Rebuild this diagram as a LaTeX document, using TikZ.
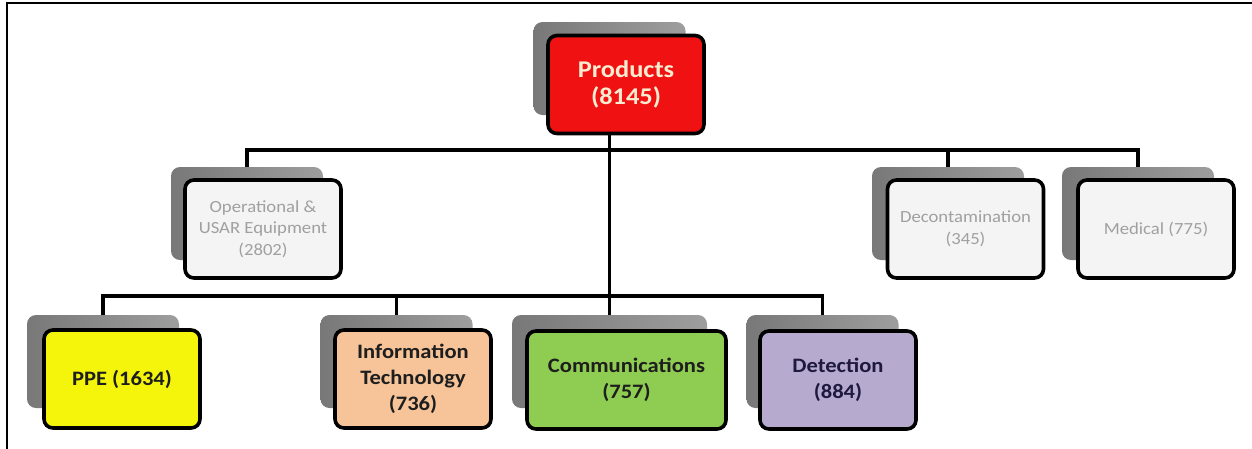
\documentclass[tikz,border=0pt]{standalone}
\usepackage{fontspec}
\setmainfont{Carlito}[FakeStretch=1.1]
\usetikzlibrary{backgrounds}

\definecolor{shadeL}{RGB}{120,120,120}
\definecolor{shadeR}{RGB}{158,158,158}
\definecolor{rootRed}{RGB}{240,18,18}
\definecolor{rootText}{RGB}{250,236,208}
\definecolor{paleFill}{RGB}{244,244,244}
\definecolor{paleText}{RGB}{160,160,160}
\definecolor{ppeYellow}{RGB}{245,245,12}
\definecolor{itPeach}{RGB}{246,196,152}
\definecolor{commGreen}{RGB}{142,204,82}
\definecolor{detLilac}{RGB}{182,170,206}
\definecolor{darkText}{RGB}{30,30,30}
\definecolor{navyText}{RGB}{30,26,62}

\begin{document}
\begin{tikzpicture}[x=1pt,y=-1pt,
  backbox/.style={rounded corners=9pt, left color=shadeL, right color=shadeR,
    draw=none, minimum width=152pt, minimum height=93pt, inner sep=0pt},
  card/.style={draw=black, line width=3.6pt, rounded corners=9pt,
    minimum width=156pt, minimum height=98pt, align=center, inner sep=2pt},
  major/.style={card, text=darkText, font=\bfseries\fontsize{20.5}{26}\selectfont},
  minor/.style={card, fill=paleFill, text=paleText, font=\fontsize{17}{21.5}\selectfont},
  conn/.style={line width=3.6pt}]

\useasboundingbox (0,0) rectangle (1252,448);

% page frame (top and left rules)
\draw[line width=2pt] (7,449) -- (7,3) -- (1253,3);

% bus levels
\coordinate (busA) at (0,150);
\coordinate (busB) at (0,296);

% back plates
\node[backbox] (prodS) at (609.5,68.5) {};
\node[backbox] (opS)   at (247,213.5) {};
\node[backbox] (deS)   at (948,213.5) {};
\node[backbox] (medS)  at (1138,213.5) {};
\node[backbox] (ppeS)  at (103,361.5) {};
\node[backbox] (itS)   at (396.5,361.5) {};
\node[backbox, minimum width=195pt] (commS) at (609.5,361.5) {};
\node[backbox] (detS)  at (822.5,361.5) {};

% front cards
\node[card, fill=rootRed, text=rootText, font=\bfseries\fontsize{24}{27}\selectfont]
  (prod) at (626,84.5) {Products\\(8145)};
\node[minor] (op)  at (263,229)    {Operational \&\\USAR Equipment\\(2802)};
\node[minor] (de)  at (965.5,229)  {Decontamination\\(345)};
\node[minor] (med) at (1156,229)   {Medical (775)};
\node[major, fill=ppeYellow] (ppe) at (122,379) {PPE (1634)};
\node[major, fill=itPeach]   (it)  at (413,379) {Information\\Technology\\(736)};
\node[major, fill=commGreen, minimum width=199pt] (comm) at (626.5,380) {Communications\\(757)};
\node[major, fill=detLilac, text=navyText] (det) at (838,380) {Detection\\(884)};

% connectors, kept behind the cards
\begin{scope}[on background layer]
  \draw[conn] (prodS.center) -- (commS.north);
  \draw[conn] (opS.north) -- (opS.north |- busA) -- (medS.north |- busA) -- (medS.north);
  \draw[conn] (deS.north) -- (deS.north |- busA);
  \draw[conn] (ppeS.north) -- (ppeS.north |- busB) -- (detS.north |- busB) -- (detS.north);
  \draw[conn] (itS.north) -- (itS.north |- busB);
\end{scope}
\end{tikzpicture}
\end{document}
